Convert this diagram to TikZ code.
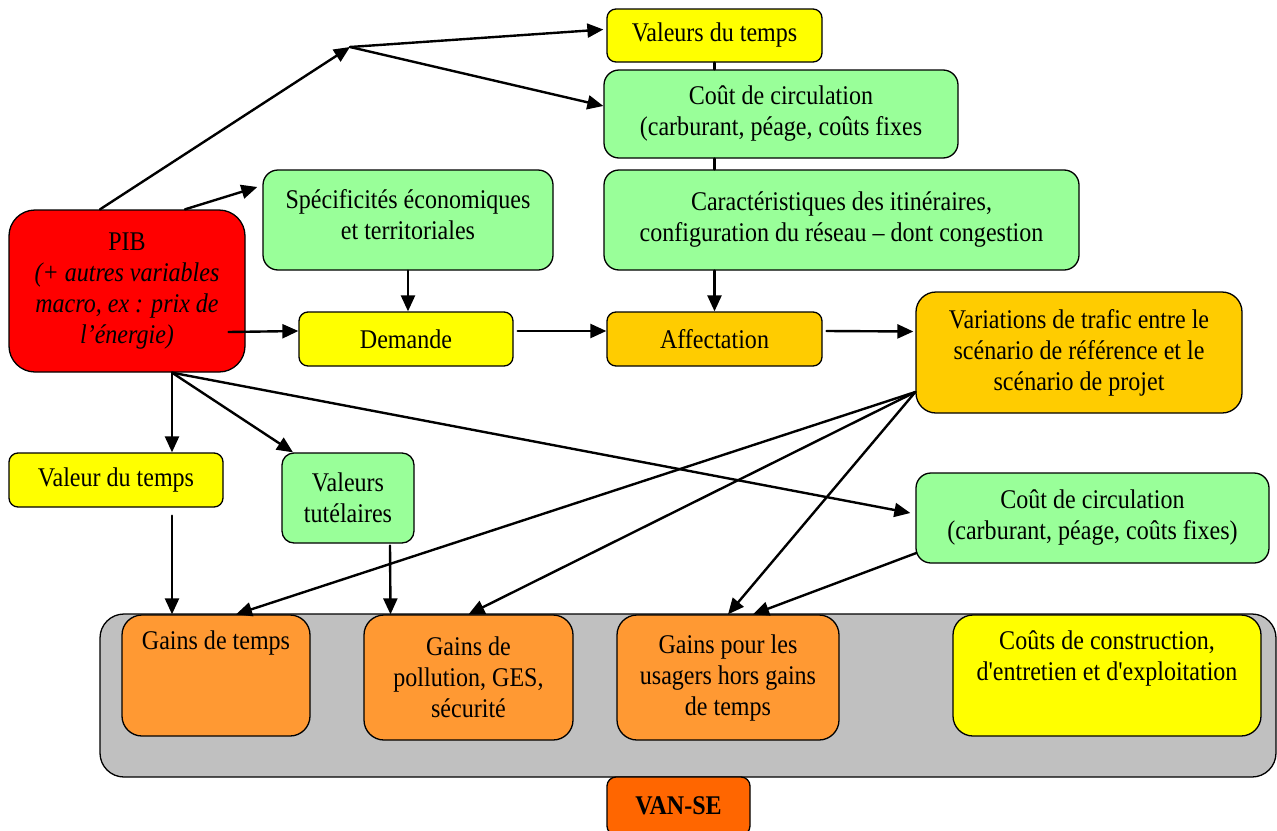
\documentclass[tikz,border=0pt]{standalone}
\usepackage{fontspec}
\setmainfont{Liberation Serif}[FakeStretch=0.89, Ligatures=TeXOff]
\usepackage{pgf,tikz}
\usetikzlibrary{arrows.meta}
\usetikzlibrary{calc}
\definecolor{myyellow}{RGB}{255,255,0}
\definecolor{mygreen}{RGB}{153,255,153}
\definecolor{myred}{RGB}{255,0,0}
\definecolor{myamber}{RGB}{255,204,0}
\definecolor{myorange}{RGB}{255,153,51}
\definecolor{myvan}{RGB}{255,102,0}
\definecolor{mygrey}{RGB}{192,192,192}
\newcommand{\mytext}{\fontsize{27}{31}\selectfont}

\begin{document}
\begin{tikzpicture}[line cap=round,line join=round,>={Triangle[length=16pt,width=14pt]},x=1pt,y=-1pt]
\useasboundingbox (0,0) rectangle (1277,830);
\tikzstyle{mybox}= [draw, line width=1.3pt, inner sep=0pt, align=center, font=\mytext];
\tikzstyle{myarrow}= [line width=2.4pt, ->];
\tikzstyle{myline}= [line width=2.4pt];

%grand cadre gris
\node [mybox, fill=mygrey, rounded corners=24pt, minimum width=1176, minimum height=163] (gains) at (688,695.5) {};
\node [mybox, fill=myvan, rounded corners=9pt, minimum width=143, minimum height=58] (van) at (678.5,806) {\textbf{VAN-SE}};

%haut
\node [mybox, fill=myyellow, rounded corners=9pt, minimum width=215, minimum height=53] (vdt) at (714.5,35.5) {Valeurs du temps};
\node [mybox, fill=mygreen, rounded corners=15pt, minimum width=354, minimum height=88] (cc1) at (781,114) {Coût de circulation\\(carburant, péage, coûts fixes};
\node [mybox, fill=mygreen, rounded corners=15pt, minimum width=475, minimum height=100] (car) at (841.5,220) {Caractéristiques des itinéraires,\\configuration du réseau – dont congestion};
\node [mybox, fill=mygreen, rounded corners=15pt, minimum width=290, minimum height=100] (spec) at (408,220) {Spécificités économiques\\et territoriales\\[-19pt]};
\node [mybox, fill=myred, rounded corners=26pt, minimum width=236, minimum height=162] (pib) at (127,291) {PIB\\\textit{(+ autres variables}\\\textit{macro, ex : prix de}\\\textit{l’énergie)}};

%milieu
\node [mybox, fill=myyellow, rounded corners=9pt, minimum width=214, minimum height=54] (dem) at (406,339) {Demande};
\node [mybox, fill=myamber, rounded corners=9pt, minimum width=215, minimum height=54] (aff) at (714.5,339) {Affectation};
\node [mybox, fill=myamber, rounded corners=20pt, minimum width=326, minimum height=121] (var) at (1079,352.5) {Variations de trafic entre le\\scénario de référence et le\\scénario de projet};
\node [mybox, fill=myyellow, rounded corners=9pt, minimum width=214, minimum height=54] (vdt2) at (116,480) {Valeur du temps};
\node [mybox, fill=mygreen, rounded corners=12pt, minimum width=132, minimum height=90] (vtut) at (348,498) {Valeurs\\tutélaires};
\node [mybox, fill=mygreen, rounded corners=15pt, minimum width=353, minimum height=90] (cc2) at (1092.5,518) {Coût de circulation\\(carburant, péage, coûts fixes)};

%bas
\node [mybox, fill=myorange, rounded corners=20pt, minimum width=188, minimum height=121] (gt) at (216,675.5) {Gains de temps\\\strut\\\strut};
\node [mybox, fill=myorange, rounded corners=20pt, minimum width=209, minimum height=125] (gp) at (468.5,677.5) {Gains de\\pollution, GES,\\sécurité};
\node [mybox, fill=myorange, rounded corners=20pt, minimum width=222, minimum height=125] (gu) at (728,677.5) {Gains pour les\\usagers hors gains\\de temps};
\node [mybox, fill=myyellow, rounded corners=20pt, minimum width=308, minimum height=121] (cco) at (1107,675.5) {Coûts de construction,\\d'entretien et d'exploitation\\\strut};

\coordinate (fork) at (350,47);
\coordinate (pibs) at ($(pib.south)+(45,0)$);
\coordinate (vars) at ($(var.west)+(0,39.5)$);

%fleches du PIB
\draw [myarrow] ($(pib.north)+(-27,0)$)-- (fork);
\draw [myarrow] (fork)-- ($(vdt.west)+(-3,-6)$);
\draw [myarrow] (fork)-- ($(cc1.west)+(0,-8)$);
\draw [myarrow] ($(pib.north)+(58,0)$)-- ($(spec.west)+(-5,-33)$);
\draw [myarrow] ($(pib.east)+(-17,41)$)-- ($(dem.west)+(0,-8)$);
\draw [myarrow] (pibs)-- (pibs |- vdt2.north);
\draw [myarrow] (pibs)-- ($(vtut.north)+(-55,0)$);
\draw [myarrow] (pibs)-- ($(cc2.west)+(-5,-5)$);

%colonne centrale
\draw [myline] (vdt.south)-- (vdt.south |- cc1.north);
\draw [myline] (vdt.south |- cc1.south)-- (vdt.south |- car.north);
\draw [myarrow] (aff.north |- car.south)-- (aff.north);
\draw [myarrow] (spec.south)-- (spec.south |- dem.north);
\draw [myarrow] ($(dem.east)+(4,-8)$)-- ($(aff.west)+(0,-8)$);
\draw [myarrow] ($(aff.east)+(4,-8)$)-- ($(var.west)+(-2,-21)$);

%vers les gains
\draw [myarrow] ($(vdt2.south)+(56,8)$)-- ($(gt.north)+(-44,0)$);
\draw [myarrow] ($(vtut.south)+(42,2)$)-- ($(gp.north)+(-78,0)$);
\draw [myarrow] (vars)-- ($(gt.north)+(20,0)$);
\draw [myarrow] (vars)-- (gp.north);
\draw [myarrow] (vars)-- (gu.north);
\draw [myarrow] ($(cc2.west)+(1,35)$)-- ($(gu.north)+(25,0)$);
\end{tikzpicture}
\end{document}
